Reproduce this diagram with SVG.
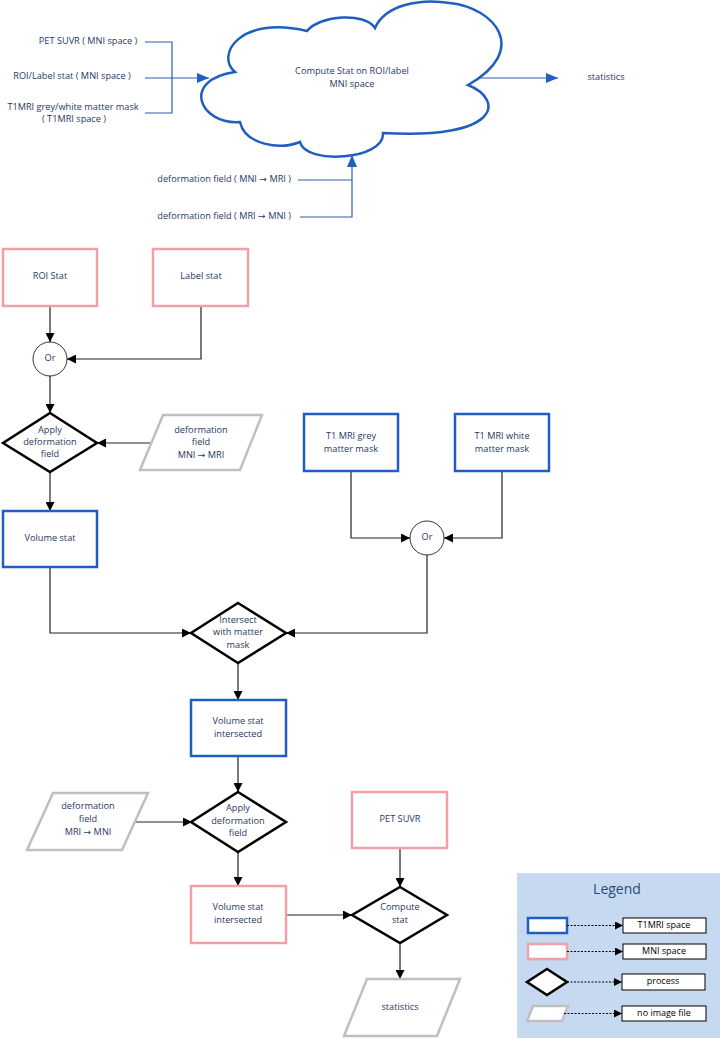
<svg xmlns="http://www.w3.org/2000/svg" width="720" height="1038" viewBox="0 0 720 1038">
<style>
text{font-family:"Open Sans","Noto Sans","DejaVu Sans",sans-serif;font-size:9.2px;fill:#1F3864;text-anchor:middle;dominant-baseline:middle}
.blue{fill:#fff;stroke:#1F5FBF;stroke-width:2.5}
.pink{fill:#fff;stroke:#F2A0A8;stroke-width:2.5}
.proc{fill:#fff;stroke:#000;stroke-width:2.5;stroke-linejoin:miter}
.data{fill:#fff;stroke:#BFBFBF;stroke-width:2.5}
.conn{fill:none;stroke:#222;stroke-width:1.2}
.tconn{fill:none;stroke:#2E5DAA;stroke-width:1.2}
.lbox{fill:#fff;stroke:#000;stroke-width:1}
.ltxt{fill:#000;font-size:9px}
.dot{fill:none;stroke:#000;stroke-width:1;stroke-dasharray:2 1.5}
</style>
<defs>
<marker id="ah" markerUnits="userSpaceOnUse" markerWidth="9" markerHeight="9" refX="9" refY="4.5" orient="auto"><path d="M0,0 L9,4.5 L0,9 z" fill="#000"/></marker>
<marker id="bh" markerUnits="userSpaceOnUse" markerWidth="12" markerHeight="10" refX="12" refY="5" orient="auto"><path d="M0,0 L12,5 L0,10 z" fill="#1F5FBF"/></marker>
<marker id="lh" markerUnits="userSpaceOnUse" markerWidth="8" markerHeight="8" refX="8" refY="4" orient="auto"><path d="M0,0 L8,4 L0,8 z" fill="#000"/></marker>
</defs>
<rect width="720" height="1038" fill="#fff"/>

<g id="top-inputs">
<text x="88" y="42">PET SUVR ( MNI space )</text>
<text x="72" y="77">ROI/Label stat ( MNI space )</text>
<text x="73" y="108">T1MRI grey/white matter mask</text>
<text x="74" y="120">( T1MRI space )</text>
<text x="291" y="180" style="text-anchor:end">deformation field ( MNI → MRI )</text>
<text x="291" y="217" style="text-anchor:end">deformation field ( MRI → MNI )</text>
<text x="606" y="78">statistics</text>
</g>

<g id="cloud">
<path class="blue" d="M235,72 C215,55 240,15 307,31 C320,15 365,12 375,28 C385,5 420,-2 450,3 C495,8 530,50 468,85 C505,100 500,140 383,133 C385,160 305,165 300,142 C280,150 245,145 240,122 C200,125 180,80 235,72 Z"/>
<text x="352" y="72">Compute Stat on ROI/label</text>
<text x="352" y="85">MNI space</text>
</g>

<g id="top-connectors">
<path class="tconn" d="M145,42 H172 V113 H145"/>
<path class="tconn" d="M145,78 H209" marker-end="url(#bh)"/>
<path class="tconn" d="M480,78 H558" marker-end="url(#bh)"/>
<path class="tconn" d="M298,180 H352"/>
<path class="tconn" d="M300,217 H352 V155" marker-end="url(#bh)"/>
</g>

<g id="connectors">
<path class="conn" d="M50,306 V342" marker-end="url(#ah)"/>
<path class="conn" d="M201,306 V359 H67" marker-end="url(#ah)"/>
<path class="conn" d="M50,376 V413" marker-end="url(#ah)"/>
<path class="conn" d="M153,443 H97" marker-end="url(#ah)"/>
<path class="conn" d="M50,472 V511" marker-end="url(#ah)"/>
<path class="conn" d="M351,471 V538 H410" marker-end="url(#ah)"/>
<path class="conn" d="M502,471 V538 H444" marker-end="url(#ah)"/>
<path class="conn" d="M50,567 V633 H191" marker-end="url(#ah)"/>
<path class="conn" d="M427,555 V633 H286" marker-end="url(#ah)"/>
<path class="conn" d="M238,663 V700" marker-end="url(#ah)"/>
<path class="conn" d="M238,756 V792" marker-end="url(#ah)"/>
<path class="conn" d="M135,822 H192" marker-end="url(#ah)"/>
<path class="conn" d="M238,852 V886" marker-end="url(#ah)"/>
<path class="conn" d="M400,848 V887" marker-end="url(#ah)"/>
<path class="conn" d="M286,915 H352" marker-end="url(#ah)"/>
<path class="conn" d="M400,943 V979" marker-end="url(#ah)"/>
</g>

<g id="roi-stat"><rect class="pink" x="3" y="249" width="94" height="57"/><text x="50" y="277">ROI Stat</text></g>
<g id="label-stat"><rect class="pink" x="153" y="249" width="95" height="57"/><text x="201" y="277">Label stat</text></g>
<g id="or1"><circle cx="50" cy="359" r="17" fill="#fff" stroke="#000" stroke-width="0.8"/><text x="50" y="359">Or</text></g>
<g id="apply1"><polygon class="proc" points="50,413 97,443 50,472 3,443"/><text x="50" y="431">Apply</text><text x="50" y="443">deformation</text><text x="50" y="455">field</text></g>
<g id="def1"><polygon class="data" points="163,415 262,415 240,470 140,470"/><text x="201" y="431">deformation</text><text x="201" y="443">field</text><text x="201" y="456">MNI → MRI</text></g>
<g id="volume-stat"><rect class="blue" x="3" y="511" width="94" height="56"/><text x="50" y="539">Volume stat</text></g>
<g id="grey-mask"><rect class="blue" x="304" y="414" width="94" height="57"/><text x="351" y="437">T1 MRI grey</text><text x="351" y="450">matter mask</text></g>
<g id="white-mask"><rect class="blue" x="455" y="414" width="94" height="57"/><text x="502" y="437">T1 MRI white</text><text x="502" y="450">matter mask</text></g>
<g id="or2"><circle cx="427" cy="538" r="17" fill="#fff" stroke="#000" stroke-width="0.8"/><text x="427" y="538">Or</text></g>
<g id="intersect"><polygon class="proc" points="238,603 286,633 238,663 191,633"/><text x="238" y="621">Intersect</text><text x="238" y="633">with matter</text><text x="238" y="646">mask</text></g>
<g id="vsi-blue"><rect class="blue" x="191" y="700" width="95" height="56"/><text x="238" y="722">Volume stat</text><text x="238" y="735">intersected</text></g>
<g id="def2"><polygon class="data" points="53,793 148,793 122,850 27,850"/><text x="88" y="807">deformation</text><text x="88" y="820">field</text><text x="88" y="833">MRI → MNI</text></g>
<g id="apply2"><polygon class="proc" points="238,792 286,822 238,852 191,822"/><text x="238" y="809">Apply</text><text x="238" y="822">deformation</text><text x="238" y="834">field</text></g>
<g id="vsi-pink"><rect class="pink" x="191" y="886" width="95" height="57"/><text x="238" y="908">Volume stat</text><text x="238" y="921">intersected</text></g>
<g id="pet-suvr"><rect class="pink" x="352" y="792" width="95" height="56"/><text x="400" y="820">PET SUVR</text></g>
<g id="compute"><polygon class="proc" points="400,887 447,915 400,943 352,915"/><text x="400" y="908">Compute</text><text x="400" y="921">stat</text></g>
<g id="statistics"><polygon class="data" points="367,979 460,979 437,1036 344,1036"/><text x="400" y="1008">statistics</text></g>

<g id="legend">
<rect x="517" y="873" width="203" height="165" fill="#C6D9F1"/>
<text x="617" y="890" style="font-size:14px;fill:#1F4E79">Legend</text>
<rect x="528" y="918" width="39" height="15" fill="#fff" stroke="#1F5FBF" stroke-width="2.5"/>
<path class="dot" d="M567,925.5 H623" marker-end="url(#lh)"/>
<rect class="lbox" x="623" y="918" width="83" height="15"/><text class="ltxt" x="664" y="925.5">T1MRI space</text>
<rect x="528" y="944" width="39" height="15" fill="#fff" stroke="#F2A0A8" stroke-width="2.5"/>
<path class="dot" d="M567,951.5 H623" marker-end="url(#lh)"/>
<rect class="lbox" x="623" y="944" width="83" height="15"/><text class="ltxt" x="664" y="951.5">MNI space</text>
<polygon points="547,969 567,982 547,995 527,982" fill="#fff" stroke="#000" stroke-width="2.5"/>
<path class="dot" d="M567,982 H622" marker-end="url(#lh)"/>
<rect class="lbox" x="622" y="974" width="83" height="16"/><text class="ltxt" x="663" y="982">process</text>
<polygon points="533,1006 568,1006 562,1021 527,1021" fill="#fff" stroke="#BFBFBF" stroke-width="2.5"/>
<path class="dot" d="M564,1013.5 H622" marker-end="url(#lh)"/>
<rect class="lbox" x="622" y="1006" width="84" height="15"/><text class="ltxt" x="664" y="1013.5">no image file</text>
</g>
</svg>
